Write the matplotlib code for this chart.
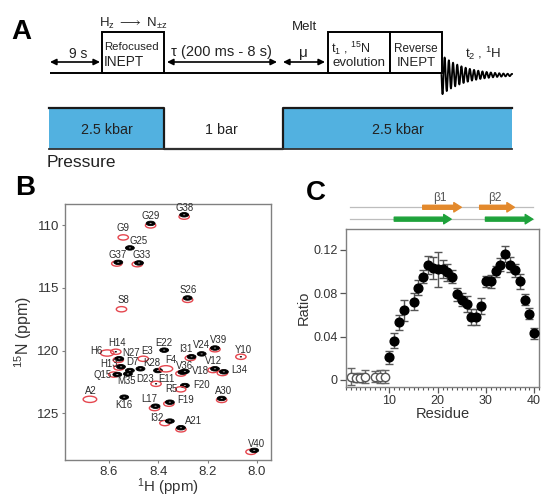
import numpy as np
import matplotlib
matplotlib.use('Agg')
import matplotlib.pyplot as plt
from matplotlib.patches import Ellipse, Rectangle
from matplotlib.ticker import MultipleLocator

plt.rcParams['font.family'] = ['Liberation Sans', 'DejaVu Sans']
plt.rcParams['mathtext.fontset'] = 'custom'
plt.rcParams['mathtext.rm'] = 'Liberation Sans'
plt.rcParams['mathtext.it'] = 'Liberation Sans:italic'
plt.rcParams['mathtext.bf'] = 'Liberation Sans:bold'

# ---------------- Panel B data (HSQC peaks) ----------------
nan = np.nan
peak_labels = ['G38', 'G29', 'G9', 'G25', 'G37', 'G33', 'S26', 'S8', 'H6', 'H14',
               'N27', 'E3', 'E22', 'I31', 'V24', 'V39', 'Y10', 'H13', 'D7', 'Q15',
               'M35', 'D23', 'K28', 'F4', 'V36', 'V18', 'V12', 'L34', 'E11', 'F20',
               'R5', 'A2', 'K16', 'L17', 'F19', 'A30', 'I32', 'A21', 'V40']
black_H = [8.295, 8.431, nan, 8.515, 8.562, 8.478, 8.281, nan, nan, nan,
           8.558, nan, 8.376, 8.265, 8.224, 8.170, nan, 8.551, 8.515, 8.566,
           8.523, 8.472, 8.401, nan, 8.302, 8.292, 8.170, 8.134, nan, 8.292,
           nan, nan, 8.538, 8.411, 8.353, 8.143, 8.353, 8.308, 8.011]
black_N = [109.15, 109.84, nan, 111.8, 112.95, 113.0, 115.8, nan, nan, nan,
           120.66, nan, 119.97, 120.5, 120.27, 119.8, nan, 121.3, 121.6, 121.92,
           121.87, 121.46, 121.6, nan, 121.73, 121.67, 121.46, 121.7, nan, 122.8,
           nan, nan, 123.73, 124.45, 124.13, 123.83, 125.64, 126.17, 127.98]
red_H = [8.295, 8.431, 8.542, nan, 8.568, 8.485, 8.281, 8.549, 8.607, 8.572,
         8.562, 8.461, nan, 8.270, nan, 8.170, 8.065, 8.559, nan, 8.580,
         nan, nan, nan, 8.369, 8.308, nan, 8.178, 8.140, 8.409, nan,
         8.309, 8.677, nan, 8.415, 8.357, 8.143, 8.373, 8.308, 8.024]
red_N = [109.3, 110.0, 110.96, nan, 113.05, 113.1, 115.95, 116.7, 120.2, 120.1,
         120.75, 120.66, nan, 120.6, nan, 119.9, 120.5, 121.36, nan, 121.92,
         nan, nan, nan, 121.46, 121.84, nan, 121.56, 121.8, 122.66, nan,
         123.1, 123.9, nan, 124.6, 124.25, 123.95, 125.8, 126.3, 128.1]
weak_labels = ['H14', 'E11', 'Y10']
wide_red_labels = ['H6', 'A2', 'F4']
# label offsets (pixels) relative to the peak
label_dx = [0, 0, 0, 9, -1, 3, 1, 2, -11, 1,
            12, 4, 0, -6, 0, 4, 2, -12, 3, -15,
            -1, 5, -6, 5, 2, 16, -1, 15, 10, 17,
            -9, 1, 0, -6, 16, 2, -13, 13, 2]
label_dy = [7, 7, 9, 7, 7, 7.5, 8, 9, 2, 9,
            6, 8, 7, 8, 9, 8, 7, 3, 9, 0,
            -7, -10, 8, 8.5, 6, 0, 8, 1.5, 5, 1,
            0, 8, -8, 7, 2, 7, 3, 7, 6]

B_xticks = [8.6, 8.4, 8.2, 8.0]
B_yticks = [110, 115, 120, 125]

# ---------------- Panel C data ----------------
open_res = [2, 3, 4, 5, 7, 8, 9]
open_ratio = [0.003, 0.002, 0.002, 0.003, 0.003, 0.003, 0.003]
open_err = [0.008, 0.004, 0.004, 0.006, 0.005, 0.006, 0.006]

res = [10, 11, 12, 13, 15, 16, 17, 18, 19, 20, 21, 22, 23, 24, 25, 26, 27, 28, 29, 30,
       31, 32, 33, 34, 35, 36, 37, 38, 39, 40]
ratio = [0.021, 0.036, 0.053, 0.064, 0.072, 0.085, 0.095, 0.106, 0.103, 0.102,
         0.102, 0.099, 0.095, 0.079, 0.074, 0.070, 0.058, 0.058, 0.068, 0.091,
         0.091, 0.100, 0.106, 0.116, 0.106, 0.101, 0.091, 0.074, 0.061, 0.043]
err = [0.006, 0.007, 0.007, 0.010, 0.008, 0.007, 0.006, 0.008, 0.010, 0.016,
       0.008, 0.008, 0.006, 0.006, 0.006, 0.007, 0.007, 0.007, 0.007, 0.005,
       0.006, 0.005, 0.006, 0.007, 0.007, 0.006, 0.007, 0.005, 0.005, 0.005]
C_xticks = [10, 20, 30, 40]
C_yticks = [0, 0.04, 0.08, 0.12]
C_yticklabels = ['0', '0.04', '0.08', '0.12']

beta_names = ['\u03b21', '\u03b22']
beta_start = [16.9, 28.7]
beta_end = [24.9, 35.9]
green_start = [11.0, 29.9]
green_end = [22.8, 39.7]
seq_range = [1.8, 39.8]

# ---------------- figure ----------------
W, H = 542, 498
fig = plt.figure(figsize=(W / 100, H / 100), dpi=100)

# ---------------- Panel A (schematic, pixel units) ----------------
axA = fig.add_axes([0, 1 - 170 / H, 1, 170 / H])
axA.set_xlim(0, W)
axA.set_ylim(170, 0)
axA.axis('off')

base_y = 73
box_top = 32.5
arrow_y = 62
lw_seq = 1.4
axA.plot([50, 441.5], [base_y, base_y], color='black', lw=lw_seq, solid_capstyle='butt')
for (x0, x1) in [(102, 164), (328, 390), (390, 441.5)]:
    axA.add_patch(Rectangle((x0, box_top), x1 - x0, base_y - box_top, fc='white',
                            ec='black', lw=lw_seq))
for (x0, x1) in [(50, 100), (167, 277), (283, 325)]:
    axA.annotate('', xy=(x1, arrow_y), xytext=(x0, arrow_y),
                 arrowprops=dict(arrowstyle='<|-|>', color='black', lw=1.2,
                                 mutation_scale=9, shrinkA=0, shrinkB=0))
# FID
t = np.linspace(0, 70.5, 1500)
fid = 20 * np.exp(-t / 24) * np.sin(2 * np.pi * t / 4.2)
axA.plot(441.5 + t, base_y + 2 + fid, color='black', lw=1.3)

tc = '#222222'
axA.text(78, 54, '9 s', ha='center', va='center', fontsize=10, color=tc)
axA.text(133, 23, r'H$_\mathrm{z}$ $\longrightarrow$ N$_{\pm \mathrm{z}}$', ha='center',
         va='center', fontsize=9.5, color=tc)
axA.text(104, 46.5, 'Refocused', ha='left', va='center', fontsize=8.2, color=tc)
axA.text(104, 61.5, 'INEPT', ha='left', va='center', fontsize=9.8, color=tc)
axA.text(221, 52, '\u03c4 (200 ms - 8 s)', ha='center', va='center', fontsize=10.5, color=tc)
axA.text(304.5, 27, 'Melt', ha='center', va='center', fontsize=9.5, color=tc)
axA.text(303, 53, '\u03bc', ha='center', va='center', fontsize=11, color=tc)
axA.text(331, 48.5, r't$_1$ , $^{15}$N', ha='left', va='center', fontsize=9, color=tc)
axA.text(359, 63.5, 'evolution', ha='center', va='center', fontsize=9.5, color=tc)
axA.text(416, 49.5, 'Reverse', ha='center', va='center', fontsize=8.5, color=tc)
axA.text(416, 63.5, 'INEPT', ha='center', va='center', fontsize=9.5, color=tc)
axA.text(483, 53, r't$_2$ , $^1$H', ha='center', va='center', fontsize=9.5, color=tc)

# pressure profile
p_edges = [49.3, 163.5, 283, 512]
p_top, p_bot = 108.3, 149.3
blue = '#52b1e0'
axA.add_patch(Rectangle((p_edges[0], p_top), p_edges[1] - p_edges[0], p_bot - p_top,
                        fc=blue, ec='none'))
axA.add_patch(Rectangle((p_edges[2], p_top), p_edges[3] - p_edges[2], p_bot - p_top,
                        fc=blue, ec='none'))
axA.plot([p_edges[0], p_edges[1], p_edges[1], p_edges[2], p_edges[2], p_edges[3]],
         [p_top, p_top, p_bot, p_bot, p_top, p_top], color='#1a1a1a', lw=1.6)
axA.plot([p_edges[0], p_edges[3]], [p_bot, p_bot], color='#333333', lw=1.3)
axA.text(106.5, 129.5, '2.5 kbar', ha='center', va='center', fontsize=10.3, color=tc)
axA.text(221.5, 129.5, '1 bar', ha='center', va='center', fontsize=10.3, color=tc)
axA.text(398, 129.5, '2.5 kbar', ha='center', va='center', fontsize=10.3, color=tc)
axA.text(47, 162, 'Pressure', ha='left', va='center', fontsize=12.5, color=tc)

# panel letters
fig.text(21.5 / W, 1 - 32 / H, 'A', ha='center', va='center', fontsize=20, fontweight='bold')
fig.text(25 / W, 1 - 188 / H, 'B', ha='center', va='center', fontsize=20, fontweight='bold')
fig.text(316 / W, 1 - 193 / H, 'C', ha='center', va='center', fontsize=20, fontweight='bold')

spine_c = '#808080'
lab_c = '#333333'

# ---------------- Panel B ----------------
axB = fig.add_axes([65 / W, 1 - 460 / H, 206 / W, 256 / H])
axB.set_xlim(8.778, 7.943)
axB.set_ylim(128.75, 108.29)
for i, lab in enumerate(peak_labels):
    if not np.isnan(red_H[i]):
        wide = lab in wide_red_labels
        axB.add_patch(Ellipse((red_H[i], red_N[i]), 0.055 if wide else 0.042,
                              0.5 if wide else 0.42, fc='none', ec='#e5474f', lw=1.0))
        if lab in weak_labels:
            axB.add_patch(Ellipse((red_H[i], red_N[i]), 0.009, 0.12, fc='black', ec='none'))
    if not np.isnan(black_H[i]):
        axB.add_patch(Ellipse((black_H[i], black_N[i]), 0.036, 0.36, fc='black', ec='black',
                              lw=0.6))
        axB.add_patch(Ellipse((black_H[i], black_N[i]), 0.009, 0.08, fc='#aaaaaa', ec='none'))
for i, lab in enumerate(peak_labels):
    hx = black_H[i] if not np.isnan(black_H[i]) else red_H[i]
    ny = black_N[i] if not np.isnan(black_N[i]) else red_N[i]
    axB.annotate(lab, xy=(hx, ny), xytext=(label_dx[i], label_dy[i]),
                 textcoords='offset pixels', ha='center', va='center', fontsize=6.9,
                 color='#2a2a2a')
axB.set_xticks(B_xticks)
axB.set_xticklabels([f'{v:.1f}' for v in B_xticks])
axB.set_yticks(B_yticks)
axB.tick_params(direction='out', length=2.5, width=0.8, color=spine_c, labelsize=9.5,
                labelcolor=lab_c, pad=1.5)
for s in axB.spines.values():
    s.set_color(spine_c)
    s.set_linewidth(1.0)
axB.set_xlabel('$^1$H (ppm)', fontsize=10.8, color=lab_c, labelpad=-1)
axB.set_ylabel('$^{15}$N (ppm)', fontsize=11.5, color=lab_c, labelpad=2)

# ---------------- Panel C ----------------
axC = fig.add_axes([346 / W, 1 - 387 / H, 193 / W, 158 / H])
axC.set_xlim(1, 41)
axC.set_ylim(-0.0065, 0.139)
axC.errorbar(open_res, open_ratio, yerr=open_err, fmt='o', ms=6, mfc='white', mec='#555555',
             mew=1.0, ecolor='#666666', elinewidth=1.0, capsize=3, capthick=1.0, zorder=2)
axC.errorbar(res, ratio, yerr=err, fmt='o', ms=6.3, color='black', ecolor='#555555',
             elinewidth=1.0, capsize=3, capthick=1.0, zorder=3)
axC.set_xticks(C_xticks)
axC.xaxis.set_minor_locator(MultipleLocator(1))
axC.set_yticks(C_yticks)
axC.set_yticklabels(C_yticklabels)
axC.tick_params(which='major', direction='out', length=4.5, width=0.9, color='#555555',
                labelsize=9, labelcolor=lab_c, pad=1.5)
axC.tick_params(which='minor', direction='out', length=2.5, width=0.8, color='#555555')
for s in axC.spines.values():
    s.set_color(spine_c)
    s.set_linewidth(1.0)
axC.set_xlabel('Residue', fontsize=10.5, color=lab_c, labelpad=0)
axC.set_ylabel('Ratio', fontsize=10.5, color=lab_c, labelpad=2)

# secondary structure strip
axS = fig.add_axes([346 / W, 1 - 226 / H, 193 / W, 36 / H])
axS.set_xlim(1, 41)
axS.set_ylim(0, 1)
axS.axis('off')
row_orange, row_green = 0.52, 0.19
for yy in (row_orange, row_green):
    axS.plot(seq_range, [yy, yy], color='#bdbdbd', lw=0.9, zorder=1)
for nm, s0, s1 in zip(beta_names, beta_start, beta_end):
    axS.annotate('', xy=(s1, row_orange), xytext=(s0, row_orange),
                 arrowprops=dict(arrowstyle='simple,head_length=0.6,head_width=0.75,tail_width=0.32',
                                 color='#e3892c', shrinkA=0, shrinkB=0, mutation_scale=9))
    axS.text((s0 + s1) / 2 - 0.5, 0.78, nm, ha='center', va='center', fontsize=8.5,
             color='#555555')
for s0, s1 in zip(green_start, green_end):
    axS.annotate('', xy=(s1, row_green), xytext=(s0, row_green),
                 arrowprops=dict(arrowstyle='simple,head_length=0.6,head_width=0.75,tail_width=0.32',
                                 color='#1ea23b', shrinkA=0, shrinkB=0, mutation_scale=9))

fig.savefig('out.png', dpi=100)
